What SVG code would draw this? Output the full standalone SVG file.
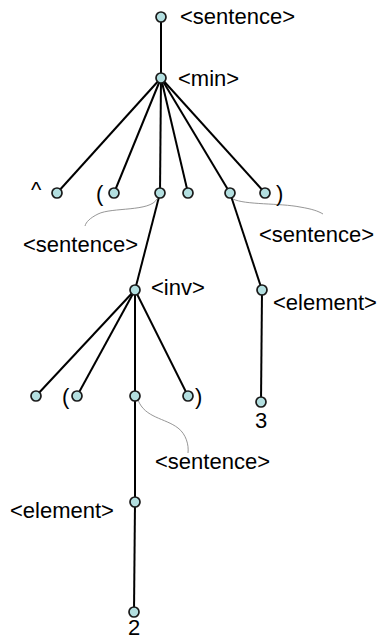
<svg xmlns="http://www.w3.org/2000/svg" width="379" height="639" viewBox="0 0 379 639">
<style>
.n{fill:#b3dfe0;stroke:#1a1a1a;stroke-width:1.7}
.e{stroke:#000;stroke-width:2;fill:none}
.c{stroke:#8a8a8a;stroke-width:0.9;fill:none}
text{font-family:"Liberation Sans",Arial,sans-serif;font-size:22px;fill:#000}
</style>
<rect width="379" height="639" fill="#fff"/>
<g id="connectors">
<line class="e" x1="161" y1="17" x2="161" y2="78"/>
<line class="e" x1="161" y1="78" x2="57" y2="193"/>
<line class="e" x1="161" y1="78" x2="114" y2="193"/>
<line class="e" x1="161" y1="78" x2="160" y2="193"/>
<line class="e" x1="161" y1="78" x2="188" y2="193"/>
<line class="e" x1="161" y1="78" x2="230" y2="193"/>
<line class="e" x1="161" y1="78" x2="265" y2="193"/>
<line class="e" x1="160" y1="193" x2="135" y2="290"/>
<line class="e" x1="230" y1="193" x2="262" y2="290"/>
<line class="e" x1="262" y1="290" x2="261" y2="402"/>
<line class="e" x1="135" y1="290" x2="36" y2="396"/>
<line class="e" x1="135" y1="290" x2="77" y2="396"/>
<line class="e" x1="135" y1="290" x2="135" y2="396"/>
<line class="e" x1="135" y1="290" x2="188" y2="396"/>
<line class="e" x1="135" y1="396" x2="135" y2="502"/>
<line class="e" x1="135" y1="502" x2="134" y2="612"/>
<path class="c" d="M157,199 C150,212 112,207 98,214 C90,218 86,222 85,226"/>
<path class="c" d="M233,199 C245,205 280,203 300,207 C312,209 318,211 323,214"/>
<path class="c" d="M138,400 C145,418 165,418 178,428 C186,434 189,445 188,453"/>
</g>
<g id="n-root"><circle class="n" cx="161" cy="17" r="5"/><text x="180" y="24">&lt;sentence&gt;</text></g>
<g id="n-min"><circle class="n" cx="161" cy="78" r="5"/><text x="178" y="86">&lt;min&gt;</text></g>
<g id="n-caret"><circle class="n" cx="57" cy="193" r="5"/><text x="31" y="197">^</text></g>
<g id="n-lparen"><circle class="n" cx="114" cy="193" r="5"/><text x="96" y="201">(</text></g>
<g id="n-s1"><circle class="n" cx="160" cy="193" r="5"/><text x="23" y="252">&lt;sentence&gt;</text></g>
<g id="n-mid"><circle class="n" cx="188" cy="193" r="5"/></g>
<g id="n-s2"><circle class="n" cx="230" cy="193" r="5"/><text x="259" y="242">&lt;sentence&gt;</text></g>
<g id="n-rparen"><circle class="n" cx="265" cy="193" r="5"/><text x="276" y="201">)</text></g>
<g id="n-inv"><circle class="n" cx="135" cy="290" r="5"/><text x="151" y="295">&lt;inv&gt;</text></g>
<g id="n-el1"><circle class="n" cx="262" cy="290" r="5"/><text x="273" y="310">&lt;element&gt;</text></g>
<g id="n-3"><circle class="n" cx="261" cy="402" r="5"/><text x="261" y="428" text-anchor="middle">3</text></g>
<g id="n-i1"><circle class="n" cx="36" cy="396" r="5"/></g>
<g id="n-i2"><circle class="n" cx="77" cy="396" r="5"/><text x="62" y="404">(</text></g>
<g id="n-s3"><circle class="n" cx="135" cy="396" r="5"/><text x="155" y="469">&lt;sentence&gt;</text></g>
<g id="n-i4"><circle class="n" cx="188" cy="396" r="5"/><text x="195" y="404">)</text></g>
<g id="n-el2"><circle class="n" cx="135" cy="502" r="5"/><text x="10" y="518">&lt;element&gt;</text></g>
<g id="n-2"><circle class="n" cx="134" cy="612" r="5"/><text x="134" y="635" text-anchor="middle">2</text></g>
</svg>
